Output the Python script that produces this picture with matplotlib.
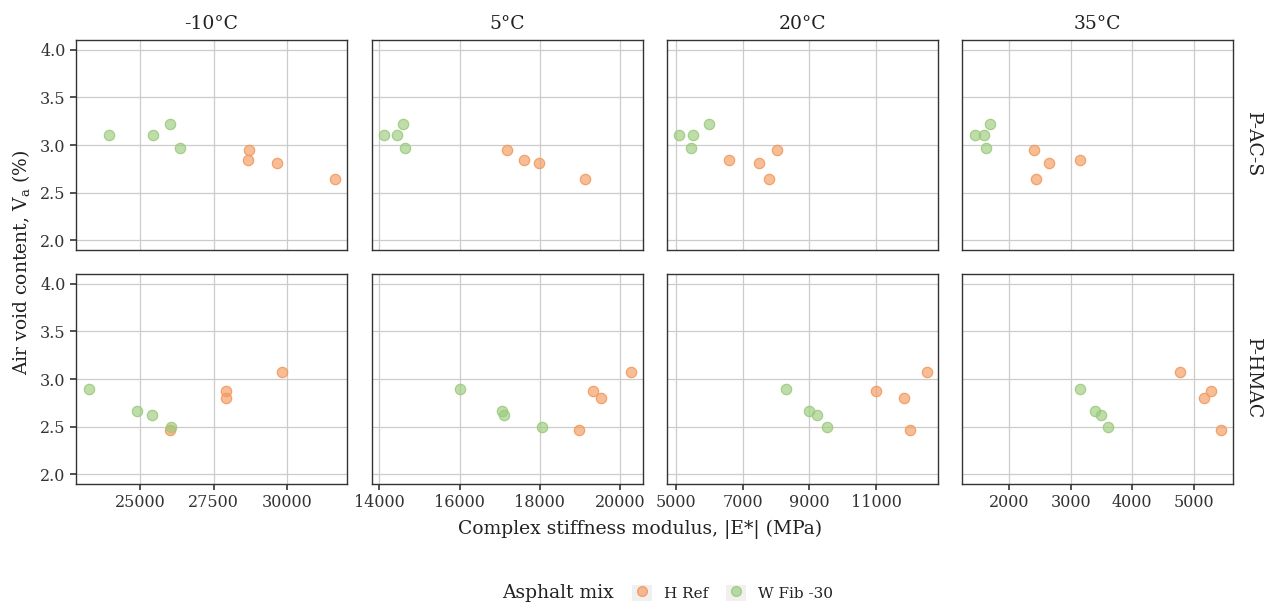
import matplotlib.pyplot as plt
from matplotlib.lines import Line2D
from matplotlib.patches import Rectangle
from matplotlib.legend_handler import HandlerTuple
from matplotlib.colors import to_rgba

plt.rcParams["font.family"] = ["DejaVu Serif"]
plt.rcParams["mathtext.fontset"] = "dejavuserif"

temps = ["-10°C", "5°C", "20°C", "35°C"]
mixes = ["P-AC-S", "P-HMAC"]

# air void content (%) per specimen
va_acs_href = [2.95, 2.84, 2.81, 2.64]
va_acs_wfib = [3.11, 3.10, 3.22, 2.97]
va_hmac_href = [2.47, 2.87, 2.80, 3.07]
va_hmac_wfib = [2.89, 2.67, 2.62, 2.50]

# |E*| (MPa) per temperature, same specimen order as above
e_acs_href = [[28700, 28680, 29660, 31630],
              [17180, 17600, 17980, 19130],
              [8040, 6600, 7480, 7800],
              [2400, 3150, 2650, 2430]]
e_acs_wfib = [[23960, 25440, 26010, 26350],
              [14110, 14450, 14600, 14630],
              [5110, 5520, 5990, 5450],
              [1440, 1590, 1690, 1620]]
e_hmac_href = [[26020, 27930, 27930, 29830],
               [18980, 19330, 19530, 20270],
               [12020, 10990, 11830, 12510],
               [5450, 5290, 5170, 4780]]
e_hmac_wfib = [[23260, 24890, 25400, 26050],
                [16000, 17060, 17110, 18060],
                [8290, 9000, 9240, 9520],
                [3150, 3400, 3500, 3610]]

xlims = [(22830, 32030), (13820, 20570), (4740, 12850), (1230, 5640)]
xticks = [[25000, 27500, 30000], [14000, 16000, 18000, 20000],
          [5000, 7000, 9000, 11000], [2000, 3000, 4000, 5000]]
yticks = [2.0, 2.5, 3.0, 3.5, 4.0]

orange = "#F39A5E"
green = "#9CCB7E"

W, H = 1270, 606
fig = plt.figure(figsize=(W / 100, H / 100), dpi=100)

lefts = [76, 372, 667, 962]
tops = [40, 274]
pw, ph = 271, 210

data = [
    [(e_acs_href, va_acs_href), (e_acs_wfib, va_acs_wfib)],
    [(e_hmac_href, va_hmac_href), (e_hmac_wfib, va_hmac_wfib)],
]

for r in range(2):
    for c in range(4):
        ax = fig.add_axes([lefts[c] / W, 1 - (tops[r] + ph) / H, pw / W, ph / H])
        for (e, va), col in zip(data[r], [orange, green]):
            ax.scatter(e[c], va, s=55, facecolors=[to_rgba(col, 0.65)],
                       edgecolors=[to_rgba(col, 0.9)], linewidths=0.9, zorder=3)
        ax.set_xlim(*xlims[c])
        ax.set_ylim(1.9, 4.1)
        ax.set_xticks(xticks[c])
        ax.set_yticks(yticks)
        ax.grid(True, color="#cccccc", linewidth=0.9)
        ax.set_axisbelow(True)
        for s in ax.spines.values():
            s.set_color("#333333")
            s.set_linewidth(1.0)
        ax.tick_params(colors="#333333", labelcolor="#333333", labelsize=11.5,
                       length=4, width=1.2)
        if r == 0:
            ax.tick_params(axis="x", length=0, labelbottom=False)
            ax.set_title(temps[c], fontsize=13.5, pad=8, color="#222222")
        if c > 0:
            ax.tick_params(axis="y", length=0, labelleft=False)
        else:
            ax.set_yticklabels([f"{v:.1f}" for v in yticks])
        if c == 3:
            ax.text(1.075, 0.5, mixes[r], transform=ax.transAxes, rotation=-90,
                    ha="center", va="center", fontsize=13.5, color="#222222")

fig.text(21 / W, 1 - 262 / H, r"Air void content, V$_{\mathregular{a}}$ (%)",
         rotation=90, ha="center", va="center", fontsize=13.5, color="#222222")
fig.text(640 / W, 1 - 529 / H, "Complex stiffness modulus, |E*| (MPa)",
         ha="center", va="center", fontsize=13.5, color="#222222")

fig.text(502 / W, 1 - 593 / H, "Asphalt mix", ha="left", va="center",
         fontsize=13.5, color="#222222")
handles = []
for col in [orange, green]:
    bg = Rectangle((0, 0), 1, 1, facecolor="#f0f0f0", edgecolor="none")
    mk = Line2D([], [], marker="o", linestyle="", markersize=7,
                markerfacecolor=to_rgba(col, 0.65),
                markeredgecolor=to_rgba(col, 0.9))
    handles.append((bg, mk))
fig.legend(handles, ["H Ref", "W Fib -30"], loc="center left",
           bbox_to_anchor=(618 / W, 1 - 593 / H), ncol=2, frameon=False,
           handler_map={tuple: HandlerTuple(ndivide=1)},
           handlelength=1.3, handleheight=1.3, handletextpad=0.8,
           columnspacing=1.2, fontsize=11, labelcolor="#222222")

fig.savefig("out.png", dpi=100)
